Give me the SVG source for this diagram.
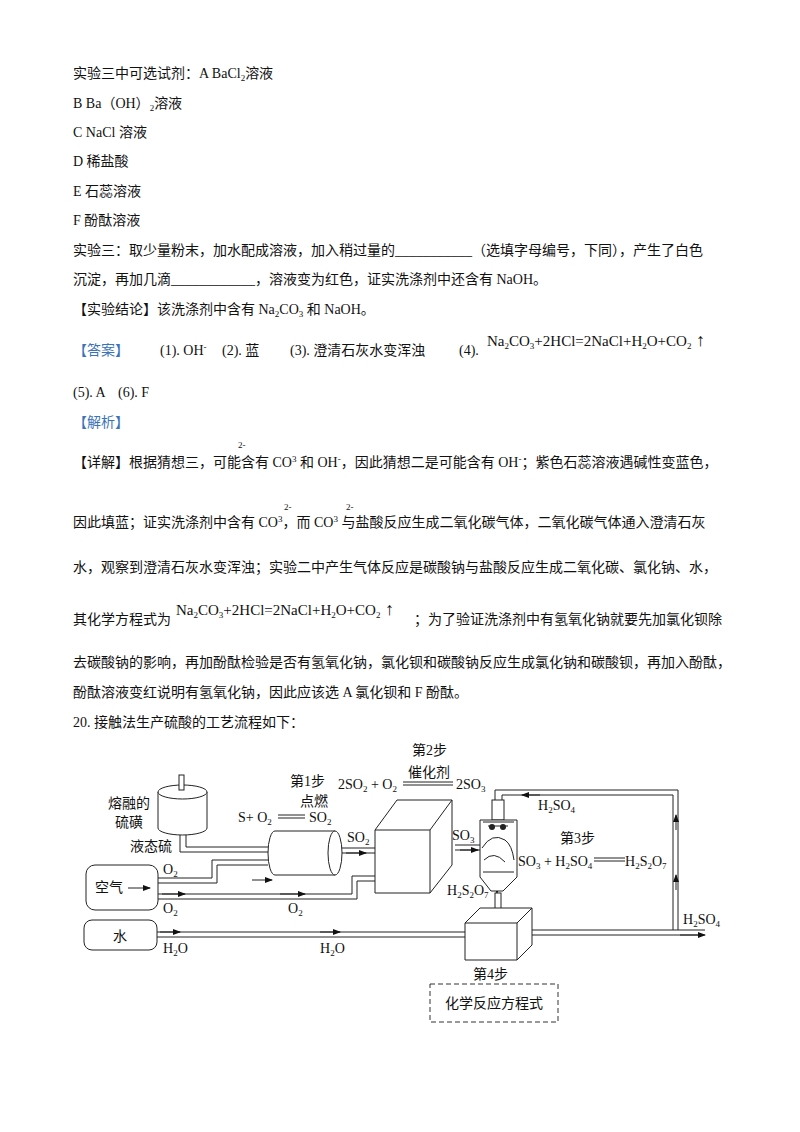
<svg xmlns="http://www.w3.org/2000/svg" width="800" height="1132" viewBox="0 0 800 1132">
<style>
text{font-family:"Liberation Serif","Noto Sans CJK SC",serif;font-size:14px;fill:#111}
.b{fill:#3b73b9}
.s{font-size:9px}
.eq{font-size:15px}
.ln{fill:none;stroke:#222;stroke-width:1}
.w{fill:#fff;stroke:#222;stroke-width:1}
</style>
<defs><marker id="a" markerWidth="8" markerHeight="6" refX="7" refY="3" orient="auto"><path d="M0,0L8,3L0,6z" fill="#111"/></marker></defs>
<g id="text">
<text x="73" y="78">实验三中可选试剂：A BaCl<tspan class="s" dy="3">2</tspan><tspan dy="-3">溶液</tspan></text>
<text x="73" y="108">B Ba（OH）<tspan class="s" dy="3">2</tspan><tspan dy="-3">溶液</tspan></text>
<text x="73" y="137">C NaCl 溶液</text>
<text x="73" y="166">D 稀盐酸</text>
<text x="73" y="196">E 石蕊溶液</text>
<text x="73" y="225">F 酚酞溶液</text>
<text x="73" y="255">实验三：取少量粉末，加水配成溶液，加入稍过量的___________（选填字母编号，下同），产生了白色</text>
<text x="73" y="284">沉淀，再加几滴____________，溶液变为红色，证实洗涤剂中还含有 NaOH。</text>
<text x="73" y="314">【实验结论】该洗涤剂中含有 Na<tspan class="s" dy="3">2</tspan><tspan dy="-3">CO</tspan><tspan class="s" dy="3">3</tspan><tspan dy="-3"> 和 NaOH。</tspan></text>
<text x="73" y="355" class="b">【答案】</text>
<text x="160" y="355">(1). OH<tspan class="s" dy="-5">-</tspan></text>
<text x="222" y="355">(2). 蓝</text>
<text x="290" y="355">(3). 澄清石灰水变浑浊</text>
<text x="459" y="355">(4).</text>
<text x="487" y="346" class="eq">Na<tspan class="s" dy="3">2</tspan><tspan dy="-3">CO</tspan><tspan class="s" dy="3">3</tspan><tspan dy="-3">+2HCl=2NaCl+H</tspan><tspan class="s" dy="3">2</tspan><tspan dy="-3">O+CO</tspan><tspan class="s" dy="3">2</tspan><tspan dy="-3" font-size="18"> ↑</tspan></text>
<text x="73" y="397">(5). A</text>
<text x="118" y="397">(6). F</text>
<text x="73" y="427" class="b">【解析】</text>
<text x="238" y="448" class="s">2-</text>
<text x="73" y="467">【详解】根据猜想三，可能含有 CO<tspan class="s" dy="-5">3</tspan><tspan dy="5">  和 OH</tspan><tspan class="s" dy="-5">-</tspan><tspan dy="5">，因此猜想二是可能含有 OH</tspan><tspan class="s" dy="-5">-</tspan><tspan dy="5">；紫色石蕊溶液遇碱性变蓝色，</tspan></text>
<text x="284" y="510" class="s">2-</text>
<text x="346" y="510" class="s">2-</text>
<text x="73" y="527">因此填蓝；证实洗涤剂中含有 CO<tspan class="s" dy="-5">3</tspan><tspan dy="5">，而 CO</tspan><tspan class="s" dy="-5">3</tspan><tspan dy="5"> 与盐酸反应生成二氧化碳气体，二氧化碳气体通入澄清石灰</tspan></text>
<text x="73" y="572">水，观察到澄清石灰水变浑浊；实验二中产生气体反应是碳酸钠与盐酸反应生成二氧化碳、氯化钠、水，</text>
<text x="73" y="624">其化学方程式为</text>
<text x="176" y="615" class="eq">Na<tspan class="s" dy="3">2</tspan><tspan dy="-3">CO</tspan><tspan class="s" dy="3">3</tspan><tspan dy="-3">+2HCl=2NaCl+H</tspan><tspan class="s" dy="3">2</tspan><tspan dy="-3">O+CO</tspan><tspan class="s" dy="3">2</tspan><tspan dy="-3" font-size="18"> ↑</tspan></text>
<text x="414" y="624">；为了验证洗涤剂中有氢氧化钠就要先加氯化钡除</text>
<text x="73" y="667">去碳酸钠的影响，再加酚酞检验是否有氢氧化钠，氯化钡和碳酸钠反应生成氯化钠和碳酸钡，再加入酚酞，</text>
<text x="73" y="697">酚酞溶液变红说明有氢氧化钠，因此应该选 A 氯化钡和 F 酚酞。</text>
<text x="73" y="727">20. 接触法生产硫酸的工艺流程如下：</text>
</g>
<g id="connectors" class="ln">
<path d="M180,833V852H268M186,833V847H268"/>
<path d="M158,878H212V860H268M158,883H217V865H268"/>
<path d="M158,894H352V876H375M158,899H357V881H375"/>
<path d="M340,848H375M340,853H375"/>
<path d="M252,880H272" marker-end="url(#a)"/>
<path d="M162,894H185" marker-end="url(#a)"/>
<path d="M280,894H305" marker-end="url(#a)"/>
<path d="M346,853H366" marker-end="url(#a)"/>
<path d="M455,845H480M455,850H480"/>
<path d="M460,850H478" marker-end="url(#a)"/>
<path d="M495,800V790H678V930M502,800V795H673V930"/>
<path d="M540,795H522" marker-end="url(#a)"/>
<path d="M676,890V875" marker-end="url(#a)"/>
<path d="M676,830V815" marker-end="url(#a)"/>
<path d="M157,932H465M157,937H465"/>
<path d="M160,932H180" marker-end="url(#a)"/>
<path d="M320,932H340" marker-end="url(#a)"/>
<path d="M520,930H705M520,935H700"/>
<path d="M680,935H705" marker-end="url(#a)"/>
<path d="M497,877V893" marker-end="url(#a)"/>
</g>
<g id="tank">
<path class="w" d="M158,792V828A24.5,7 0 0 0 207,828V792"/>
<ellipse class="w" cx="182.5" cy="792" rx="24.5" ry="7"/>
<rect class="w" x="179" y="775" width="5" height="15"/>
<text x="108" y="808">熔融的</text><text x="115" y="827">硫磺</text><text x="130" y="851">液态硫</text>
</g>
<g id="burner">
<path class="w" d="M275,831H335V875H275A7,22 0 0 1 275,831Z"/>
<ellipse class="w" cx="335" cy="853" rx="7" ry="22"/>
<text x="290" y="786">第1步</text><text x="300" y="806">点燃</text>
<text x="238" y="822">S+ O<tspan class="s" dy="3">2</tspan></text><path class="ln" d="M278,815H305M278,818H305"/><text x="309" y="822">SO<tspan class="s" dy="3">2</tspan></text>
<text x="347" y="842">SO<tspan class="s" dy="3">2</tspan></text>
</g>
<g id="air"><rect class="w" x="86" y="865" width="72" height="45" rx="9"/><text x="95" y="892">空气</text><path class="ln" d="M128,888H150" marker-end="url(#a)"/>
<text x="163" y="874">O<tspan class="s" dy="3">2</tspan></text><text x="163" y="913">O<tspan class="s" dy="3">2</tspan></text><text x="288" y="913">O<tspan class="s" dy="3">2</tspan></text></g>
<g id="converter">
<path class="w" d="M375,830L397,800H452V865L430,893H375Z"/><path class="ln" d="M375,830H430V893M430,830L452,800"/>
<text x="412" y="755">第2步</text><text x="408" y="777">催化剂</text>
<text x="338" y="789">2SO<tspan class="s" dy="3">2</tspan><tspan dy="-3"> + O</tspan><tspan class="s" dy="3">2</tspan></text><path class="ln" d="M403,782H453M403,785H453"/><text x="456" y="789">2SO<tspan class="s" dy="3">3</tspan></text>
<text x="452" y="840">SO<tspan class="s" dy="3">3</tspan></text>
</g>
<g id="tower">
<rect class="w" x="492" y="800" width="12" height="20"/>
<path class="w" d="M480,820H517V877L503,891H491L480,877Z"/>
<path class="ln" d="M483,822H514M488,826H508M482,848Q492,832 505,840Q512,845 514,860M484,860Q494,850 505,862M483,872H514"/>
<circle cx="492" cy="827" r="3" fill="#222"/><circle cx="503" cy="827" r="3" fill="#222"/>
<text x="560" y="843">第3步</text>
<text x="518" y="866">SO<tspan class="s" dy="3">3</tspan><tspan dy="-3"> + H</tspan><tspan class="s" dy="3">2</tspan><tspan dy="-3">SO</tspan><tspan class="s" dy="3">4</tspan></text><path class="ln" d="M594,858H625M594,861H625"/><text x="625" y="866">H<tspan class="s" dy="3">2</tspan><tspan dy="-3">S</tspan><tspan class="s" dy="3">2</tspan><tspan dy="-3">O</tspan><tspan class="s" dy="3">7</tspan></text>
<text x="538" y="810">H<tspan class="s" dy="3">2</tspan><tspan dy="-3">SO</tspan><tspan class="s" dy="3">4</tspan></text>
<text x="447" y="895">H<tspan class="s" dy="3">2</tspan><tspan dy="-3">S</tspan><tspan class="s" dy="3">2</tspan><tspan dy="-3">O</tspan><tspan class="s" dy="3">7</tspan></text>
<text x="683" y="924">H<tspan class="s" dy="3">2</tspan><tspan dy="-3">SO</tspan><tspan class="s" dy="3">4</tspan></text>
</g>
<g id="water"><rect class="w" x="84" y="920" width="73" height="30" rx="8"/><text x="113" y="941">水</text>
<text x="163" y="953">H<tspan class="s" dy="3">2</tspan><tspan dy="-3">O</tspan></text><text x="320" y="953">H<tspan class="s" dy="3">2</tspan><tspan dy="-3">O</tspan></text></g>
<g id="absorber">
<rect class="w" x="495" y="893" width="6" height="16"/>
<path class="w" d="M465,923L480,908H532V945L517,960H465Z"/><path class="ln" d="M465,923H517V960M517,923L532,908"/>
<text x="473" y="979">第4步</text>
<rect x="430" y="984" width="128" height="38" fill="none" stroke="#333" stroke-dasharray="5,3"/>
<text x="445" y="1008">化学反应方程式</text>
</g>
</svg>
